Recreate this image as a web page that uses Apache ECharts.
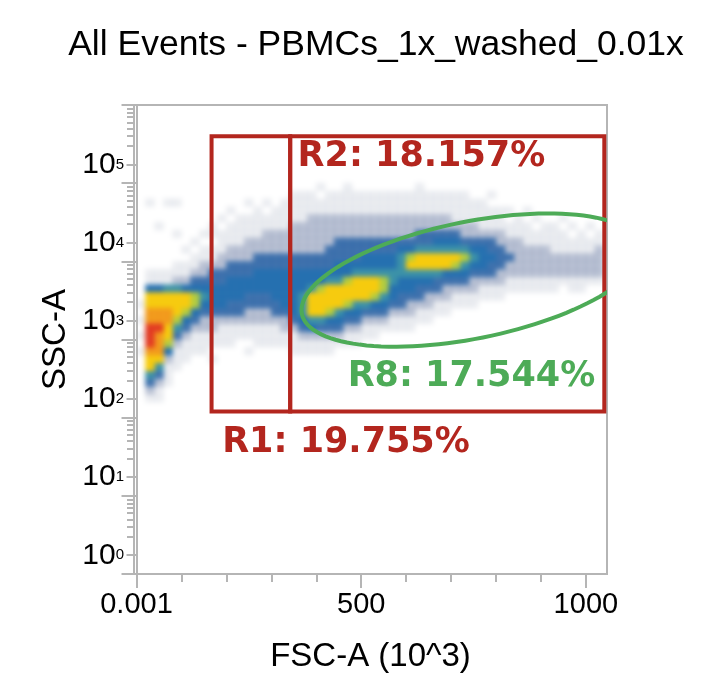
<!DOCTYPE html>
<html lang="en">
<head>
<meta charset="UTF-8">
<title>All Events - PBMCs_1x_washed_0.01x</title>
<style>
    * { margin: 0; padding: 0; }
    html, body { width: 100%; height: 100%; background: #fff; }
    .layer { position: absolute; left: 0; top: 0; width: 712px; height: 700px; }
    #density { filter: blur(2.5px); }
</style>
</head>
<body>
<div id="density" class="layer"></div>
<div id="chart" class="layer"></div>
<script src="https://cdn.jsdelivr.net/npm/echarts@6/dist/echarts.min.js"></script>
<script>
// density: FSC-A bins 20 wide, SSC-A bins 0.1 decade (log10)
var fscBinWidth = 20;
var sscBinHeight = 0.1;
var sscTopBin = 4.9;
// one string per FSC bin (0, 20, 40 ...), from 10^4.9 down to 10^2.0
// '.' empty, 1 = sparse dots ... 7 = yellow, 8 = orange, 9 = red
var densityColumns = [
    "...............1.1.1.1........",
    "..1........11477889998775321..",
    ".....1.....11477889888753211..",
    "..1........115778877642111....",
    "..1...1...11257776532111......",
    "........1.1124776432111.......",
    ".......1.1123466432111........",
    "......1.11223454322111........",
    ".....11.1123344432211.1.......",
    "....1.111223344432111.........",
    "...1.1112233444332111.........",
    "....1111223344433211..........",
    "..1.1112223344332211.1........",
    "...111122334443322111.........",
    "..1.11222334443322111.........",
    "...111222334444332111.........",
    "..1111222334444432211.........",
    ".111122223344444432111........",
    ".111122223344455543211........",
    ".111222223344577754211........",
    "1.11222223344677753211........",
    ".111222233345777643211........",
    ".11122233344577754321.........",
    "111122233344677643211.........",
    ".11122233345777543211.........",
    ".1112223344577753211..........",
    ".1112223344577643211..........",
    ".111222334456654321...........",
    ".111222334455443211...........",
    ".111222345554433211...........",
    ".111222346754432211...........",
    "111122335775433211............",
    ".11122335775432211............",
    ".1112234577533211.............",
    ".1112234577432211.............",
    ".111123457643211..............",
    ".111122356543211..............",
    "..11122345432211..............",
    "..1111234443211...............",
    ".1.111233433211...............",
    "...111223332211...............",
    "...1.112232211................",
    "....1112222211................",
    "...1.111222211................",
    "....1.11222211................",
    ".....111222211................",
    ".....111122211................",
    "....1.1112221.................",
    ".....1.1122211................",
    "......11122211................",
    ".....1.112221.................",
    "......1122221................."
];

var fscRange = [-5.6, 1047];
var sscRange = [0, 6];
var fscMajorTicks = [0, 500, 1000];
var fscMinorTicks = [100, 200, 300, 400, 600, 700, 800, 900];
var fscTickLabels = { 0: '0.001', 500: '500', 1000: '1000' };
var sscDecades = [0, 1, 2, 3, 4, 5, 6];
var sscLabelExponents = [0, 1, 2, 3, 4, 5];
var sscLabelShift = 0.24;

// rectangle gates: [fscMin, fscMax, sscMin, sscMax]
var rectGates = [[167, 342, 2.08, 5.60], [342, 1041, 2.08, 5.60]];
// R8 ellipse: centre fsc, centre ssc, half length (fsc), half width (decades), tilt (deg)
var ellipseGate = [745.6, 3.76, 385, 0.748, 11.3];
var gateLabels = ['R1: 19.755%', 'R2: 18.157%', 'R8: 17.544%'];
var gateLabelFsc = [190.6, 358.5, 469.8];
var gateLabelSsc = [1.675, 5.34, 2.52];

var gateRed = '#b3261e';
var gateGreen = '#4dab57';
var labelColors = [gateRed, gateRed, gateGreen];
var levelColors = [
    'rgba(0,0,0,0)',
    'rgba(30,50,100,0.09)',
    'rgba(30,55,115,0.30)',
    'rgba(32,90,160,0.85)',
    '#2570b0',
    '#3c92a8',
    '#b3cc40',
    '#f6cb0e',
    '#f29a1c',
    '#e23a22'
];
var axisGray = '#b5b5b5';

var densityData = [];
densityColumns.forEach(function (col, i) {
    for (var r = 0; r < col.length; r++) {
        var ch = col.charAt(r);
        var lv = ch === '.' ? 0 : +ch;
        if (lv > 0) {
            densityData.push([i * fscBinWidth, +(sscTopBin - r * sscBinHeight).toFixed(2), lv]);
        }
    }
});
densityData.sort(function (a, b) { return a[2] - b[2]; });

var sscLabelTicks = sscLabelExponents.map(function (e) { return e + sscLabelShift; });
var sscMinorTicks = [];
sscDecades.slice(0, -1).forEach(function (k) {
    for (var m = 3; m <= 9; m++) sscMinorTicks.push(k + Math.log10(m));
});

function tickStyle() {
    return { color: axisGray, width: 2 };
}

var gridBox = { left: 134, right: 105, top: 105, bottom: 126, outerBoundsMode: 'none' };

// bottom layer: the event density only, softened by the css blur
var densityChart = echarts.init(document.getElementById('density'));
densityChart.setOption({
    animation: false,
    backgroundColor: '#fff',
    grid: gridBox,
    xAxis: { type: 'value', min: fscRange[0], max: fscRange[1], show: false },
    yAxis: { type: 'value', min: sscRange[0], max: sscRange[1], show: false },
    series: [{
        name: 'events',
        type: 'custom',
        silent: true,
        clip: true,
        encode: { x: 0, y: 1 },
        data: densityData,
        renderItem: function (params, api) {
            var p = api.coord([api.value(0), api.value(1) + sscBinHeight]);
            var s = api.size([fscBinWidth, sscBinHeight]);
            return {
                type: 'rect',
                shape: { x: p[0] - 0.3, y: p[1] - 0.3, width: s[0] + 0.6, height: s[1] + 0.6 },
                style: { fill: levelColors[api.value(2)] }
            };
        }
    }]
});

// top layer: frame, axes, gates and text
var chart = echarts.init(document.getElementById('chart'));
var option = {
    animation: false,
    backgroundColor: 'transparent',
    title: {
        text: 'All Events - PBMCs_1x_washed_0.01x',
        left: 371,
        top: 22,
        textAlign: 'center',
        textStyle: { fontSize: 35.5, fontWeight: 'normal', fontFamily: 'Liberation Sans', color: '#000' }
    },
    grid: {
        left: 134, right: 105, top: 105, bottom: 126,
        show: true, borderColor: axisGray, borderWidth: 2,
        outerBoundsMode: 'none'
    },
    xAxis: [{
        type: 'value', min: fscRange[0], max: fscRange[1], position: 'bottom',
        name: 'FSC-A (10^3)', nameLocation: 'middle', nameGap: 66,
        nameTextStyle: { fontSize: 33, fontFamily: 'Liberation Sans', color: '#000' },
        axisLine: { show: true, lineStyle: tickStyle() },
        axisTick: { show: true, length: 14, lineStyle: tickStyle(), customValues: fscMajorTicks },
        axisLabel: {
            customValues: fscMajorTicks, margin: 16, fontSize: 29, fontFamily: 'Liberation Sans', color: '#000',
            formatter: function (v) { return fscTickLabels[v]; }
        },
        splitLine: { show: false }
    }, {
        type: 'value', min: fscRange[0], max: fscRange[1], position: 'bottom',
        axisLine: { show: false },
        axisTick: { show: true, length: 8, lineStyle: tickStyle(), customValues: fscMinorTicks },
        axisLabel: { show: false },
        splitLine: { show: false }
    }],
    yAxis: [{
        type: 'value', min: sscRange[0], max: sscRange[1], position: 'left',
        name: 'SSC-A', nameLocation: 'middle', nameGap: 62, nameRotate: 90,
        nameTextStyle: { fontSize: 33, fontFamily: 'Liberation Sans', color: '#000' },
        axisLine: { show: true, lineStyle: tickStyle() },
        axisTick: { show: true, length: 15, lineStyle: tickStyle(), customValues: sscDecades },
        axisLabel: { show: false },
        splitLine: { show: false }
    }, {
        type: 'value', min: sscRange[0], max: sscRange[1], position: 'left',
        axisLine: { show: false },
        axisTick: { show: true, length: 10, lineStyle: tickStyle(), customValues: sscLabelTicks },
        axisLabel: {
            customValues: sscLabelTicks, margin: 10, color: '#000',
            formatter: function (v) {
                return '{m|10}{e|' + Math.round(v - sscLabelShift) + '}';
            },
            rich: {
                m: { fontSize: 30, fontFamily: 'Liberation Sans', color: '#000' },
                e: { fontSize: 15, fontFamily: 'Liberation Sans', color: '#000' }
            }
        },
        splitLine: { show: false }
    }, {
        type: 'value', min: sscRange[0], max: sscRange[1], position: 'left',
        axisLine: { show: false },
        axisTick: { show: true, length: 7, lineStyle: tickStyle(), customValues: sscMinorTicks },
        axisLabel: { show: false },
        splitLine: { show: false }
    }],
    series: [{
        name: 'rect gates',
        type: 'custom',
        silent: true,
        z: 3,
        encode: { x: [0, 1], y: [2, 3] },
        data: rectGates,
        renderItem: function (params, api) {
            var a = api.coord([api.value(0), api.value(3)]);
            var b = api.coord([api.value(1), api.value(2)]);
            return {
                type: 'rect',
                shape: { x: a[0], y: a[1], width: b[0] - a[0], height: b[1] - a[1] },
                style: { fill: 'none', stroke: gateRed, lineWidth: 4 }
            };
        }
    }, {
        name: 'R8',
        type: 'custom',
        silent: true,
        clip: true,
        z: 3,
        encode: { x: 0, y: 1 },
        data: [ellipseGate],
        renderItem: function (params, api) {
            var c = api.coord([api.value(0), api.value(1)]);
            var s = api.size([api.value(2), api.value(3)]);
            var phi = api.value(4) * Math.PI / 180;
            var pts = [];
            for (var t = 0; t < 360; t += 3) {
                var r = t * Math.PI / 180;
                var u = s[0] * Math.cos(r), w = s[1] * Math.sin(r);
                pts.push([c[0] + u * Math.cos(phi) + w * Math.sin(phi),
                          c[1] - u * Math.sin(phi) + w * Math.cos(phi)]);
            }
            return {
                type: 'polygon',
                shape: { points: pts },
                style: { fill: 'none', stroke: gateGreen, lineWidth: 4 }
            };
        }
    }, {
        name: 'gate labels',
        type: 'custom',
        silent: true,
        z: 4,
        encode: { x: 0, y: 1 },
        data: gateLabelFsc.map(function (x, i) { return [x, gateLabelSsc[i], i]; }),
        renderItem: function (params, api) {
            var p = api.coord([api.value(0), api.value(1)]);
            var i = api.value(2);
            return {
                type: 'text',
                x: p[0], y: p[1],
                style: {
                    text: gateLabels[i], fill: labelColors[i],
                    fontSize: 35, fontWeight: 'bold', fontFamily: 'DejaVu Sans',
                    align: 'left', verticalAlign: 'middle'
                }
            };
        }
    }]
};
chart.setOption(option);
</script>
</body>
</html>
